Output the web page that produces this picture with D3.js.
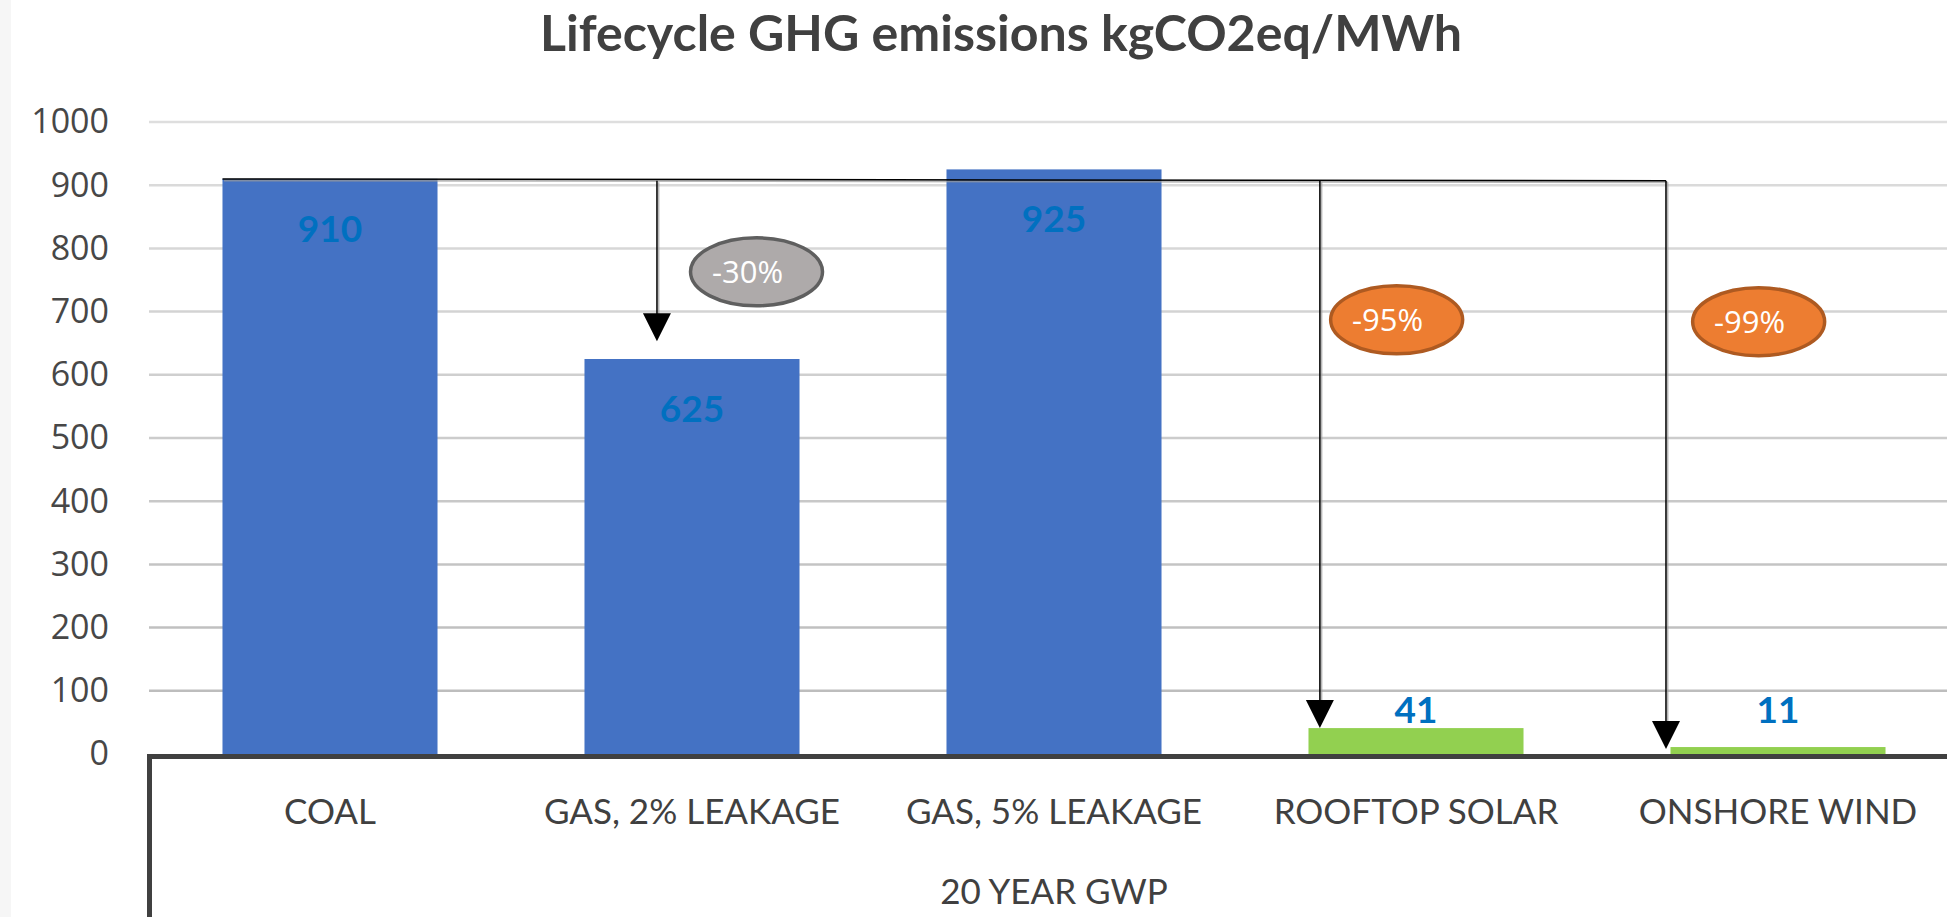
<!DOCTYPE html>
<html>
<head>
<meta charset="utf-8">
<script src="https://cdn.jsdelivr.net/npm/d3@7"></script>
<style>
  html, body { margin: 0; padding: 0; background: #fff; overflow: hidden; }
  svg { display: block; }
</style>
</head>
<body>
<svg id="chart" width="1947" height="917"></svg>
<script>
// --- Dados ---
const title = 'Lifecycle GHG emissions kgCO2eq/MWh';
const categories = ['COAL', 'GAS, 2% LEAKAGE', 'GAS, 5% LEAKAGE', 'ROOFTOP SOLAR', 'ONSHORE WIND'];
const emissions = [910, 625, 925, 41, 11];
const renewable = [false, false, false, true, true];
const yTicks = [0, 100, 200, 300, 400, 500, 600, 700, 800, 900, 1000];
const groupLabel = '20 YEAR GWP';

// comparações com o carvão (setas + balões)
const arrowTargets = ['GAS, 2% LEAKAGE', 'ROOFTOP SOLAR', 'ONSHORE WIND'];
const arrowTips = [653, 41, 8];
const reductions = ['-30%', '-95%', '-99%'];

// --- Configuração visual ---
const cfg = {
  width: 1947, height: 917,
  left: 149, right: 1959, top: 122, bottom: 754,
  blue: '#4472c4', green: '#92d050', labelBlue: '#0070c0',
  text: '#404040', axis: '#404040',
  arrowX: [0.337, 0.053, -0.021],       // posição da seta dentro da barra (fração)
  bubbleX: [0.80, 0.41, 0.41],          // centro do balão (fração da barra)
  bubbleY: [763, 687, 684],             // centro do balão (valor)
  bubbleFill: ['#aeaaaa', '#ed7d31', '#ed7d31'],
  bubbleStroke: ['#5f5f5f', '#ae5a21', '#ae5a21'],
  connectorValue: 907
};

const svg = d3.select('#chart');

const x = d3.scaleBand()
  .domain(categories)
  .range([cfg.left, cfg.right])
  .paddingInner(0.406)
  .paddingOuter(0.203);

const y = d3.scaleLinear().domain([0, 1000]).range([cfg.bottom, cfg.top]);

// faixa cinza à esquerda
svg.append('rect').attr('x', 0).attr('y', 0).attr('width', 11).attr('height', cfg.height).attr('fill', '#f6f6f6');

// grade
const gridColor = d3.scaleLinear().domain([0, 1000]).range(['#b9b9b9', '#dedede']);
svg.append('g').selectAll('line')
  .data(yTicks.filter(d => d > 0))
  .join('line')
  .attr('x1', cfg.left).attr('x2', cfg.width)
  .attr('y1', d => y(d)).attr('y2', d => y(d))
  .attr('stroke', d => gridColor(d))
  .attr('stroke-width', 2.5);

// eixo Y
const yAxis = svg.append('g')
  .attr('transform', `translate(${cfg.left - 40},0)`)
  .call(d3.axisLeft(y).tickValues(yTicks).tickFormat(d3.format('d')).tickSize(0).tickPadding(0));
yAxis.select('.domain').remove();
yAxis.selectAll('text')
  .attr('fill', '#474747')
  .style('font-family', '"Open Sans", sans-serif')
  .style('font-size', '34px');

// barras
svg.append('g').selectAll('rect')
  .data(categories)
  .join('rect')
  .attr('x', d => x(d))
  .attr('width', x.bandwidth())
  .attr('y', (d, i) => y(emissions[i]))
  .attr('height', (d, i) => y(0) - y(emissions[i]))
  .attr('fill', (d, i) => renewable[i] ? cfg.green : cfg.blue);

// rótulos de dados
svg.append('g').selectAll('text')
  .data(categories)
  .join('text')
  .attr('x', d => x(d) + x.bandwidth() / 2)
  .attr('y', (d, i) => emissions[i] > 100 ? y(emissions[i]) + 63 : y(0) - 31)
  .attr('text-anchor', 'middle')
  .attr('fill', cfg.labelBlue)
  .style('font-family', 'Lato, sans-serif')
  .style('font-weight', 700)
  .style('font-size', '37px')
  .text((d, i) => emissions[i]);

// eixo X (linha grossa em L)
svg.append('path')
  .attr('d', `M${cfg.left + 0.5},${cfg.height} V${cfg.bottom + 2.5} H${cfg.width}`)
  .attr('fill', 'none')
  .attr('stroke', cfg.axis)
  .attr('stroke-width', 5);

// categorias
svg.append('g').selectAll('text')
  .data(categories)
  .join('text')
  .attr('x', d => x(d) + x.bandwidth() / 2)
  .attr('y', 824)
  .attr('text-anchor', 'middle')
  .attr('fill', cfg.text)
  .style('font-family', 'Lato, sans-serif')
  .style('font-size', '35px')
  .text(d => d);

svg.append('text')
  .attr('x', (cfg.left + cfg.right) / 2)
  .attr('y', 904)
  .attr('text-anchor', 'middle')
  .attr('fill', cfg.text)
  .style('font-family', 'Lato, sans-serif')
  .style('font-size', '35px')
  .text(groupLabel);

// conectores e setas
const ann = svg.append('g');
const arrowXs = arrowTargets.map((c, i) => x(c) + cfg.arrowX[i] * x.bandwidth());
const yc = y(cfg.connectorValue);
const headH = 28, headW = 14;

function line(g, x1, y1, x2, y2) {
  g.append('line').attr('x1', x1 + 1.5).attr('y1', y1 + 1.5).attr('x2', x2 + 1.5).attr('y2', y2 + 1.5)
    .attr('stroke', '#9a9a9a').attr('stroke-width', 2).attr('opacity', 0.7);
  g.append('line').attr('x1', x1).attr('y1', y1).attr('x2', x2).attr('y2', y2)
    .attr('stroke', '#000').attr('stroke-width', 1.5);
}

line(ann, x(categories[0]), y(emissions[0]), d3.max(arrowXs), yc);
arrowXs.forEach((ax, i) => {
  const tip = y(arrowTips[i]);
  line(ann, ax, yc, ax, tip - headH + 2);
  ann.append('path')
    .attr('d', `M${ax - headW},${tip - headH} L${ax + headW},${tip - headH} L${ax},${tip} Z`)
    .attr('fill', '#000');
});

// balões de redução
const bubbles = ann.selectAll('g.bubble')
  .data(arrowTargets)
  .join('g')
  .attr('class', 'bubble')
  .attr('transform', (c, i) => `translate(${x(c) + cfg.bubbleX[i] * x.bandwidth()},${y(cfg.bubbleY[i])})`);

bubbles.append('ellipse')
  .attr('rx', 66).attr('ry', 34)
  .attr('fill', (c, i) => cfg.bubbleFill[i])
  .attr('stroke', (c, i) => cfg.bubbleStroke[i])
  .attr('stroke-width', 3.5);

bubbles.append('text')
  .attr('x', -9).attr('y', 11)
  .attr('text-anchor', 'middle')
  .attr('fill', '#fff')
  .style('font-family', '"Open Sans", sans-serif')
  .style('font-size', '31px')
  .text((c, i) => reductions[i]);

// título
const t = svg.append('text')
  .attr('x', 1001).attr('y', 51)
  .attr('text-anchor', 'middle')
  .attr('fill', cfg.text)
  .style('font-family', 'Lato, sans-serif')
  .style('font-weight', 700)
  .style('font-size', '46px')
  .text(title);
const tw = t.node().getComputedTextLength();
t.style('font-size', (46 * 922 / tw).toFixed(1) + 'px');
</script>
</body>
</html>
